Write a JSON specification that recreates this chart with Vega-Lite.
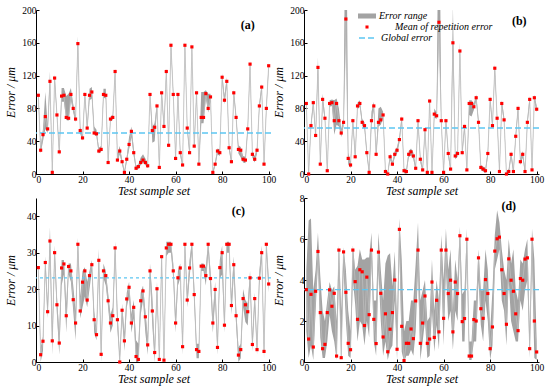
{
"$schema": "https://vega.github.io/schema/vega-lite/v6.json",
"padding": {"left": 4, "top": 5, "right": 5, "bottom": 3},
"bounds": "flush",
"columns": 2,
"spacing": {"row": 24, "column": 33},
"resolve": {"scale": {"fill": "independent", "color": "independent", "strokeDash": "independent"}, "legend": {"fill": "independent", "color": "independent", "strokeDash": "independent"}},
"config": {
 "font": "Liberation Serif",
 "view": {"stroke": null},
 "axis": {"grid": false, "domainColor": "#000", "tickColor": "#000", "labelColor": "#000", "titleColor": "#000", "labelFont": "Liberation Serif", "labelFontSize": 9.5, "labelOverlap": false, "labelBound": false, "labelSeparation": 0, "titleFont": "Liberation Serif", "titleFontSize": 12, "titleFontStyle": "italic", "titleFontWeight": "normal", "tickSize": -3, "labelPadding": 3, "domainWidth": 1},
 "axisY": {"minExtent": 18, "maxExtent": 18, "titlePadding": 1},
 "axisX": {"minExtent": 11, "maxExtent": 11, "titlePadding": 0, "labelPadding": 3},
 "legend": {"labelFont": "Liberation Serif", "labelFontStyle": "italic", "labelFontSize": 10, "labelColor": "#000"}
},
"datasets": {
"a": [{"x":1,"m":96,"lo":90,"hi":102},{"x":2,"m":29,"lo":25,"hi":33},{"x":3,"m":48,"lo":40,"hi":55},{"x":4,"m":70,"lo":55,"hi":100},{"x":5,"m":55,"lo":50,"hi":60},{"x":6,"m":113,"lo":105,"hi":125},{"x":7,"m":2,"lo":0,"hi":5},{"x":8,"m":117,"lo":112,"hi":122},{"x":9,"m":72,"lo":68,"hi":76},{"x":10,"m":27,"lo":22,"hi":30},{"x":11,"m":95,"lo":88,"hi":105},{"x":12,"m":96,"lo":88,"hi":105},{"x":13,"m":69,"lo":66,"hi":95},{"x":14,"m":68,"lo":65,"hi":98},{"x":15,"m":97,"lo":90,"hi":105},{"x":16,"m":80,"lo":75,"hi":85},{"x":17,"m":67,"lo":63,"hi":71},{"x":18,"m":159,"lo":152,"hi":168},{"x":19,"m":53,"lo":49,"hi":58},{"x":20,"m":44,"lo":41,"hi":47},{"x":21,"m":97,"lo":93,"hi":101},{"x":22,"m":56,"lo":52,"hi":60},{"x":23,"m":96,"lo":90,"hi":104},{"x":24,"m":100,"lo":92,"hi":106},{"x":25,"m":50,"lo":48,"hi":58},{"x":26,"m":49,"lo":46,"hi":54},{"x":27,"m":28,"lo":25,"hi":32},{"x":28,"m":30,"lo":27,"hi":34},{"x":29,"m":97,"lo":93,"hi":104},{"x":30,"m":96,"lo":92,"hi":104},{"x":31,"m":14,"lo":12,"hi":17},{"x":32,"m":67,"lo":64,"hi":70},{"x":33,"m":69,"lo":66,"hi":72},{"x":34,"m":125,"lo":120,"hi":129},{"x":35,"m":17,"lo":14,"hi":25},{"x":36,"m":28,"lo":24,"hi":34},{"x":37,"m":15,"lo":12,"hi":18},{"x":38,"m":2,"lo":0,"hi":4},{"x":39,"m":18,"lo":15,"hi":21},{"x":40,"m":36,"lo":30,"hi":45},{"x":41,"m":52,"lo":45,"hi":58},{"x":42,"m":26,"lo":22,"hi":32},{"x":43,"m":7,"lo":5,"hi":10},{"x":44,"m":9,"lo":6,"hi":12},{"x":45,"m":14,"lo":11,"hi":20},{"x":46,"m":17,"lo":14,"hi":24},{"x":47,"m":14,"lo":11,"hi":19},{"x":48,"m":10,"lo":7,"hi":13},{"x":49,"m":97,"lo":94,"hi":100},{"x":50,"m":53,"lo":38,"hi":58},{"x":51,"m":57,"lo":40,"hi":62},{"x":52,"m":83,"lo":78,"hi":87},{"x":53,"m":8,"lo":5,"hi":11},{"x":54,"m":99,"lo":95,"hi":103},{"x":55,"m":58,"lo":52,"hi":62},{"x":56,"m":125,"lo":120,"hi":129},{"x":57,"m":35,"lo":31,"hi":39},{"x":58,"m":157,"lo":152,"hi":162},{"x":59,"m":97,"lo":93,"hi":101},{"x":60,"m":19,"lo":15,"hi":22},{"x":61,"m":97,"lo":93,"hi":101},{"x":62,"m":26,"lo":22,"hi":30},{"x":63,"m":11,"lo":8,"hi":14},{"x":64,"m":157,"lo":152,"hi":162},{"x":65,"m":56,"lo":52,"hi":60},{"x":66,"m":26,"lo":23,"hi":30},{"x":67,"m":155,"lo":150,"hi":160},{"x":68,"m":34,"lo":30,"hi":38},{"x":69,"m":99,"lo":95,"hi":103},{"x":70,"m":12,"lo":9,"hi":15},{"x":71,"m":69,"lo":62,"hi":100},{"x":72,"m":69,"lo":62,"hi":100},{"x":73,"m":98,"lo":92,"hi":102},{"x":74,"m":80,"lo":75,"hi":98},{"x":75,"m":94,"lo":88,"hi":98},{"x":76,"m":2,"lo":0,"hi":4},{"x":77,"m":12,"lo":9,"hi":15},{"x":78,"m":28,"lo":24,"hi":31},{"x":79,"m":26,"lo":22,"hi":30},{"x":80,"m":118,"lo":113,"hi":123},{"x":81,"m":90,"lo":85,"hi":95},{"x":82,"m":113,"lo":108,"hi":118},{"x":83,"m":32,"lo":28,"hi":36},{"x":84,"m":15,"lo":12,"hi":18},{"x":85,"m":99,"lo":95,"hi":103},{"x":86,"m":69,"lo":65,"hi":73},{"x":87,"m":30,"lo":25,"hi":35},{"x":88,"m":29,"lo":20,"hi":33},{"x":89,"m":18,"lo":14,"hi":22},{"x":90,"m":17,"lo":13,"hi":21},{"x":91,"m":55,"lo":51,"hi":59},{"x":92,"m":134,"lo":128,"hi":138},{"x":93,"m":24,"lo":20,"hi":28},{"x":94,"m":18,"lo":14,"hi":22},{"x":95,"m":29,"lo":25,"hi":33},{"x":96,"m":83,"lo":79,"hi":87},{"x":97,"m":106,"lo":101,"hi":110},{"x":98,"m":12,"lo":9,"hi":15},{"x":99,"m":80,"lo":76,"hi":84},{"x":100,"m":132,"lo":127,"hi":136}],
"b": [{"x":1,"m":86,"lo":82,"hi":90},{"x":2,"m":0,"lo":0,"hi":3},{"x":3,"m":59,"lo":55,"hi":63},{"x":4,"m":87,"lo":83,"hi":91},{"x":5,"m":47,"lo":43,"hi":51},{"x":6,"m":130,"lo":120,"hi":142},{"x":7,"m":12,"lo":8,"hi":16},{"x":8,"m":91,"lo":86,"hi":98},{"x":9,"m":68,"lo":64,"hi":72},{"x":10,"m":4,"lo":1,"hi":7},{"x":11,"m":86,"lo":82,"hi":90},{"x":12,"m":87,"lo":83,"hi":91},{"x":13,"m":65,"lo":48,"hi":90},{"x":14,"m":86,"lo":60,"hi":92},{"x":15,"m":65,"lo":58,"hi":80},{"x":16,"m":50,"lo":45,"hi":55},{"x":17,"m":63,"lo":58,"hi":68},{"x":18,"m":189,"lo":170,"hi":400},{"x":19,"m":19,"lo":12,"hi":26},{"x":20,"m":11,"lo":7,"hi":15},{"x":21,"m":65,"lo":61,"hi":69},{"x":22,"m":21,"lo":17,"hi":25},{"x":23,"m":83,"lo":79,"hi":87},{"x":24,"m":86,"lo":82,"hi":90},{"x":25,"m":63,"lo":59,"hi":67},{"x":26,"m":59,"lo":55,"hi":63},{"x":27,"m":26,"lo":22,"hi":30},{"x":28,"m":2,"lo":0,"hi":5},{"x":29,"m":65,"lo":60,"hi":76},{"x":30,"m":83,"lo":78,"hi":88},{"x":31,"m":24,"lo":20,"hi":28},{"x":32,"m":63,"lo":58,"hi":80},{"x":33,"m":66,"lo":60,"hi":82},{"x":34,"m":72,"lo":68,"hi":76},{"x":35,"m":3,"lo":0,"hi":6},{"x":36,"m":0,"lo":0,"hi":3},{"x":37,"m":21,"lo":17,"hi":25},{"x":38,"m":12,"lo":9,"hi":15},{"x":39,"m":24,"lo":20,"hi":28},{"x":40,"m":29,"lo":25,"hi":33},{"x":41,"m":42,"lo":38,"hi":46},{"x":42,"m":67,"lo":63,"hi":71},{"x":43,"m":4,"lo":1,"hi":7},{"x":44,"m":3,"lo":0,"hi":6},{"x":45,"m":24,"lo":20,"hi":28},{"x":46,"m":27,"lo":23,"hi":31},{"x":47,"m":22,"lo":18,"hi":26},{"x":48,"m":7,"lo":4,"hi":10},{"x":49,"m":65,"lo":61,"hi":69},{"x":50,"m":18,"lo":14,"hi":22},{"x":51,"m":5,"lo":2,"hi":8},{"x":52,"m":54,"lo":50,"hi":58},{"x":53,"m":2,"lo":0,"hi":5},{"x":54,"m":89,"lo":85,"hi":93},{"x":55,"m":2,"lo":0,"hi":5},{"x":56,"m":73,"lo":69,"hi":80},{"x":57,"m":71,"lo":67,"hi":75},{"x":58,"m":185,"lo":170,"hi":400},{"x":59,"m":65,"lo":61,"hi":69},{"x":60,"m":2,"lo":0,"hi":5},{"x":61,"m":65,"lo":61,"hi":69},{"x":62,"m":25,"lo":21,"hi":29},{"x":63,"m":6,"lo":3,"hi":9},{"x":64,"m":160,"lo":150,"hi":205},{"x":65,"m":22,"lo":18,"hi":26},{"x":66,"m":25,"lo":21,"hi":29},{"x":67,"m":150,"lo":145,"hi":160},{"x":68,"m":26,"lo":22,"hi":30},{"x":69,"m":58,"lo":54,"hi":62},{"x":70,"m":5,"lo":2,"hi":8},{"x":71,"m":86,"lo":72,"hi":90},{"x":72,"m":86,"lo":70,"hi":90},{"x":73,"m":82,"lo":78,"hi":86},{"x":74,"m":93,"lo":89,"hi":97},{"x":75,"m":63,"lo":59,"hi":67},{"x":76,"m":8,"lo":5,"hi":11},{"x":77,"m":6,"lo":3,"hi":9},{"x":78,"m":4,"lo":1,"hi":7},{"x":79,"m":25,"lo":21,"hi":29},{"x":80,"m":91,"lo":87,"hi":95},{"x":81,"m":59,"lo":55,"hi":63},{"x":82,"m":129,"lo":124,"hi":134},{"x":83,"m":68,"lo":64,"hi":72},{"x":84,"m":3,"lo":0,"hi":6},{"x":85,"m":86,"lo":82,"hi":90},{"x":86,"m":66,"lo":62,"hi":70},{"x":87,"m":0,"lo":0,"hi":3},{"x":88,"m":3,"lo":0,"hi":6},{"x":89,"m":24,"lo":20,"hi":28},{"x":90,"m":3,"lo":0,"hi":6},{"x":91,"m":46,"lo":42,"hi":50},{"x":92,"m":80,"lo":76,"hi":84},{"x":93,"m":15,"lo":11,"hi":19},{"x":94,"m":24,"lo":20,"hi":28},{"x":95,"m":3,"lo":0,"hi":6},{"x":96,"m":63,"lo":59,"hi":67},{"x":97,"m":91,"lo":87,"hi":95},{"x":98,"m":5,"lo":2,"hi":8},{"x":99,"m":93,"lo":89,"hi":97},{"x":100,"m":79,"lo":75,"hi":83}],
"c": [{"x":1,"m":25.9,"lo":24,"hi":27},{"x":2,"m":2,"lo":0,"hi":4},{"x":3,"m":5.7,"lo":3,"hi":7},{"x":4,"m":27.3,"lo":25,"hi":29},{"x":5,"m":13.8,"lo":12,"hi":16},{"x":6,"m":33.2,"lo":30,"hi":37},{"x":7,"m":5.8,"lo":2,"hi":9},{"x":8,"m":30,"lo":28,"hi":32},{"x":9,"m":15.7,"lo":13,"hi":18},{"x":10,"m":5.2,"lo":2,"hi":8},{"x":11,"m":25.8,"lo":21,"hi":28},{"x":12,"m":26.9,"lo":24,"hi":28},{"x":13,"m":12.7,"lo":8,"hi":16},{"x":14,"m":26.2,"lo":24,"hi":27},{"x":15,"m":25,"lo":22,"hi":27},{"x":16,"m":17.1,"lo":14,"hi":21},{"x":17,"m":10.7,"lo":6,"hi":14},{"x":18,"m":32.3,"lo":30,"hi":34},{"x":19,"m":14,"lo":12,"hi":18},{"x":20,"m":21.9,"lo":15,"hi":25},{"x":21,"m":25,"lo":18,"hi":26},{"x":22,"m":17,"lo":15,"hi":22},{"x":23,"m":23.7,"lo":20,"hi":25},{"x":24,"m":26.7,"lo":25,"hi":28},{"x":25,"m":11.6,"lo":8,"hi":14},{"x":26,"m":7.5,"lo":6,"hi":9},{"x":27,"m":27.9,"lo":25,"hi":31},{"x":28,"m":2.1,"lo":0,"hi":4},{"x":29,"m":25,"lo":23,"hi":27},{"x":30,"m":23.7,"lo":21,"hi":25},{"x":31,"m":16.8,"lo":15,"hi":19},{"x":32,"m":10.7,"lo":8,"hi":13},{"x":33,"m":12.7,"lo":10,"hi":15},{"x":34,"m":31.3,"lo":29,"hi":33},{"x":35,"m":11.6,"lo":9,"hi":14},{"x":36,"m":0,"lo":0,"hi":2},{"x":37,"m":14.2,"lo":12,"hi":16},{"x":38,"m":5.8,"lo":3,"hi":8},{"x":39,"m":17.3,"lo":15,"hi":19},{"x":40,"m":20.5,"lo":18,"hi":22},{"x":41,"m":10.7,"lo":8,"hi":13},{"x":42,"m":15,"lo":12,"hi":17},{"x":43,"m":1.5,"lo":0,"hi":6},{"x":44,"m":0.7,"lo":0,"hi":5},{"x":45,"m":16.8,"lo":13,"hi":19},{"x":46,"m":19.5,"lo":17,"hi":21},{"x":47,"m":12.4,"lo":8,"hi":14},{"x":48,"m":4.7,"lo":2,"hi":7},{"x":49,"m":25,"lo":23,"hi":27},{"x":50,"m":14,"lo":10,"hi":18},{"x":51,"m":2.6,"lo":0,"hi":4},{"x":52,"m":20.1,"lo":18,"hi":22},{"x":53,"m":0.7,"lo":0,"hi":2},{"x":54,"m":28.9,"lo":26,"hi":30},{"x":55,"m":0.5,"lo":0,"hi":2},{"x":56,"m":31.3,"lo":29,"hi":33},{"x":57,"m":32.3,"lo":30,"hi":33},{"x":58,"m":32.3,"lo":30,"hi":33},{"x":59,"m":25,"lo":23,"hi":27},{"x":60,"m":10.7,"lo":8,"hi":13},{"x":61,"m":23.1,"lo":21,"hi":25},{"x":62,"m":25.8,"lo":23,"hi":27},{"x":63,"m":4.2,"lo":2,"hi":6},{"x":64,"m":32.3,"lo":30,"hi":33},{"x":65,"m":17,"lo":15,"hi":19},{"x":66,"m":25.8,"lo":23,"hi":28},{"x":67,"m":32.3,"lo":30,"hi":33},{"x":68,"m":18.5,"lo":16,"hi":21},{"x":69,"m":3.4,"lo":1,"hi":5},{"x":70,"m":2.9,"lo":1,"hi":5},{"x":71,"m":26.3,"lo":25,"hi":27},{"x":72,"m":26.3,"lo":25,"hi":27},{"x":73,"m":23.7,"lo":21,"hi":26},{"x":74,"m":32.3,"lo":30,"hi":33},{"x":75,"m":22.9,"lo":20,"hi":25},{"x":76,"m":10.7,"lo":8,"hi":13},{"x":77,"m":19.9,"lo":17,"hi":22},{"x":78,"m":4,"lo":2,"hi":6},{"x":79,"m":25.9,"lo":23,"hi":28},{"x":80,"m":30,"lo":24,"hi":32},{"x":81,"m":10.1,"lo":8,"hi":12},{"x":82,"m":32.3,"lo":30,"hi":33},{"x":83,"m":32.3,"lo":30,"hi":33},{"x":84,"m":15.5,"lo":13,"hi":18},{"x":85,"m":26.7,"lo":24,"hi":29},{"x":86,"m":12.7,"lo":10,"hi":15},{"x":87,"m":1.9,"lo":0,"hi":4},{"x":88,"m":3.4,"lo":1,"hi":5},{"x":89,"m":17.4,"lo":15,"hi":20},{"x":90,"m":15.7,"lo":11,"hi":17},{"x":91,"m":13.8,"lo":10,"hi":16},{"x":92,"m":23.1,"lo":21,"hi":25},{"x":93,"m":4.8,"lo":3,"hi":7},{"x":94,"m":17.4,"lo":15,"hi":19},{"x":95,"m":3.4,"lo":2,"hi":5},{"x":96,"m":23,"lo":21,"hi":25},{"x":97,"m":30,"lo":28,"hi":32},{"x":98,"m":2.9,"lo":1,"hi":5},{"x":99,"m":32.3,"lo":30,"hi":33},{"x":100,"m":21.4,"lo":19,"hi":23}],
"d": [{"x":1,"m":3.53,"lo":1.5,"hi":4.5},{"x":2,"m":1.12,"lo":0.2,"hi":6.9},{"x":3,"m":3.3,"lo":0.8,"hi":7.0},{"x":4,"m":0.73,"lo":0.1,"hi":3.5},{"x":5,"m":3.45,"lo":2.5,"hi":4.5},{"x":6,"m":5.39,"lo":4.8,"hi":6.3},{"x":7,"m":2.41,"lo":1.2,"hi":4.2},{"x":8,"m":0.65,"lo":0.2,"hi":2.5},{"x":9,"m":0.86,"lo":0.2,"hi":2},{"x":10,"m":2.41,"lo":1,"hi":3},{"x":11,"m":3.52,"lo":2.3,"hi":3.9},{"x":12,"m":2.72,"lo":1.5,"hi":3.5},{"x":13,"m":3.35,"lo":1,"hi":3.7},{"x":14,"m":0.29,"lo":0.1,"hi":2},{"x":15,"m":5.46,"lo":4,"hi":5.7},{"x":16,"m":0.21,"lo":0.1,"hi":2.5},{"x":17,"m":5.37,"lo":4.5,"hi":5.6},{"x":18,"m":3.4,"lo":2,"hi":4.5},{"x":19,"m":0.91,"lo":0.3,"hi":2.5},{"x":20,"m":0.6,"lo":0.2,"hi":1.5},{"x":21,"m":5.46,"lo":4,"hi":5.7},{"x":22,"m":3.92,"lo":2.8,"hi":4.5},{"x":23,"m":2.08,"lo":1,"hi":4.7},{"x":24,"m":4.5,"lo":2,"hi":5.5},{"x":25,"m":4.4,"lo":1.8,"hi":5},{"x":26,"m":1.78,"lo":0.8,"hi":5},{"x":27,"m":4.14,"lo":2,"hi":5.1},{"x":28,"m":2.31,"lo":1.2,"hi":5.1},{"x":29,"m":5.46,"lo":5,"hi":6.3},{"x":30,"m":2.08,"lo":1,"hi":3},{"x":31,"m":0.9,"lo":0.3,"hi":3},{"x":32,"m":5.36,"lo":4.5,"hi":6.3},{"x":33,"m":3.35,"lo":2,"hi":4.5},{"x":34,"m":1.22,"lo":0.3,"hi":3},{"x":35,"m":2.35,"lo":1,"hi":4.8},{"x":36,"m":0.5,"lo":0.1,"hi":5.2},{"x":37,"m":1.6,"lo":0.6,"hi":5.3},{"x":38,"m":2.41,"lo":0.8,"hi":3.7},{"x":39,"m":4,"lo":3,"hi":5.4},{"x":40,"m":0.62,"lo":0.1,"hi":2},{"x":41,"m":6.47,"lo":5.5,"hi":7},{"x":42,"m":1.74,"lo":0.5,"hi":5},{"x":43,"m":0.07,"lo":0,"hi":1.5},{"x":44,"m":0.91,"lo":0.3,"hi":2},{"x":45,"m":0.91,"lo":0.3,"hi":2},{"x":46,"m":1.61,"lo":0.6,"hi":3},{"x":47,"m":1.14,"lo":0.3,"hi":3},{"x":48,"m":2.98,"lo":1.5,"hi":4.8},{"x":49,"m":5.46,"lo":4.5,"hi":6.8},{"x":50,"m":0.91,"lo":0.1,"hi":3},{"x":51,"m":1.9,"lo":1,"hi":3.5},{"x":52,"m":3.22,"lo":2,"hi":4},{"x":53,"m":0.91,"lo":0.2,"hi":2},{"x":54,"m":1.12,"lo":0.3,"hi":2.2},{"x":55,"m":3.9,"lo":2.5,"hi":5},{"x":56,"m":1.2,"lo":0.5,"hi":2.5},{"x":57,"m":3.01,"lo":1.8,"hi":4},{"x":58,"m":1.47,"lo":0.6,"hi":3},{"x":59,"m":5.46,"lo":4.5,"hi":6.2},{"x":60,"m":2.13,"lo":0.8,"hi":4},{"x":61,"m":5.46,"lo":4.5,"hi":6.5},{"x":62,"m":3.34,"lo":2,"hi":4.5},{"x":63,"m":3.99,"lo":2.5,"hi":5.5},{"x":64,"m":1.47,"lo":0.6,"hi":2.5},{"x":65,"m":3.9,"lo":2.5,"hi":5},{"x":66,"m":3.34,"lo":2,"hi":4},{"x":67,"m":6.16,"lo":5.5,"hi":6.6},{"x":68,"m":1.97,"lo":1,"hi":3.3},{"x":69,"m":2.12,"lo":1,"hi":3.5},{"x":70,"m":5.99,"lo":5,"hi":6.5},{"x":71,"m":0.29,"lo":0.1,"hi":1},{"x":72,"m":0.29,"lo":0.1,"hi":1},{"x":73,"m":2.07,"lo":1,"hi":3},{"x":74,"m":2,"lo":1,"hi":3},{"x":75,"m":5.08,"lo":4,"hi":5.5},{"x":76,"m":2.6,"lo":1.8,"hi":3.5},{"x":77,"m":2.13,"lo":1,"hi":3.5},{"x":78,"m":4.02,"lo":3,"hi":5.5},{"x":79,"m":3.34,"lo":2,"hi":4.5},{"x":80,"m":0.65,"lo":0.1,"hi":1.5},{"x":81,"m":1.71,"lo":0.8,"hi":3.5},{"x":82,"m":5.41,"lo":4.5,"hi":6.2},{"x":83,"m":6.01,"lo":5,"hi":7.4},{"x":84,"m":6.09,"lo":5.5,"hi":6.8},{"x":85,"m":4.5,"lo":3,"hi":5.5},{"x":86,"m":3.34,"lo":2.5,"hi":4.5},{"x":87,"m":1.84,"lo":0.8,"hi":4},{"x":88,"m":5.03,"lo":4,"hi":6},{"x":89,"m":3.99,"lo":2,"hi":4.8},{"x":90,"m":3.45,"lo":1.5,"hi":5.5},{"x":91,"m":2.35,"lo":1,"hi":3.5},{"x":92,"m":1.53,"lo":1,"hi":3},{"x":93,"m":4.07,"lo":3,"hi":5},{"x":94,"m":3.99,"lo":2.5,"hi":4.8},{"x":95,"m":5.02,"lo":3.5,"hi":5.5},{"x":96,"m":5.08,"lo":4,"hi":6},{"x":97,"m":0.65,"lo":0.2,"hi":1.5},{"x":98,"m":5.99,"lo":5,"hi":6.5},{"x":99,"m":2,"lo":0.2,"hi":5},{"x":100,"m":0.49,"lo":0.1,"hi":1}]
},
"concat": [
 {"width": 235, "height": 164, "data": {"name": "a"},
  "layer": [
   {"mark": {"type": "area", "color": "#a3a3a3", "clip": true},
    "encoding": {"x": {"field": "x", "type": "quantitative", "scale": {"domain": [0, 101], "nice": false, "zero": false}, "axis": {"values": [0, 20, 40, 60, 80, 100], "labelOverlap": false}, "title": "Test sample set"},
     "y": {"field": "lo", "type": "quantitative", "scale": {"domain": [0, 200], "nice": false}, "axis": {"values": [0, 40, 80, 120, 160, 200], "labelOverlap": false, "labelBound": false}, "title": "Error / μm"},
     "y2": {"field": "hi"}}},
   {"mark": {"type": "line", "color": "#bdbdbd", "strokeWidth": 0.8, "clip": true},
    "encoding": {"x": {"field": "x", "type": "quantitative", "title": "Test sample set", "axis": {"values": [0, 20, 40, 60, 80, 100], "labelOverlap": false}}, "y": {"field": "m", "type": "quantitative", "title": "Error / μm", "axis": {"values": [0, 40, 80, 120, 160, 200], "labelOverlap": false}}}},
   {"data": {"values": [{}]}, "mark": {"type": "rule", "color": "#5cc6f2", "strokeDash": [6, 3], "strokeWidth": 1.5},
    "encoding": {"y": {"datum": 50, "title": "Error / μm", "axis": {"values": [0, 40, 80, 120, 160, 200], "labelOverlap": false}}}},
   {"mark": {"type": "square", "color": "#ff0000", "size": 10, "opacity": 1},
    "encoding": {"x": {"field": "x", "type": "quantitative", "title": "Test sample set", "axis": {"values": [0, 20, 40, 60, 80, 100], "labelOverlap": false}}, "y": {"field": "m", "type": "quantitative", "title": "Error / μm", "axis": {"values": [0, 40, 80, 120, 160, 200], "labelOverlap": false}}}},
   {"data": {"values": [{}]}, "mark": {"type": "text", "font": "Liberation Serif", "fontWeight": "bold", "fontSize": 12, "color": "#000"},
    "encoding": {"x": {"datum": 91, "title": "Test sample set", "axis": {"values": [0, 20, 40, 60, 80, 100], "labelOverlap": false}}, "y": {"datum": 182, "title": "Error / μm", "axis": {"values": [0, 40, 80, 120, 160, 200], "labelOverlap": false}}, "text": {"value": "(a)"}}}
  ]},
 {"width": 235, "height": 164, "data": {"name": "b"},
  "layer": [
   {"mark": {"type": "area", "clip": true},
    "encoding": {"x": {"field": "x", "type": "quantitative", "scale": {"domain": [0, 101], "nice": false, "zero": false}, "axis": {"values": [0, 20, 40, 60, 80, 100], "labelOverlap": false}, "title": "Test sample set"},
     "y": {"field": "lo", "type": "quantitative", "scale": {"domain": [0, 200], "nice": false}, "axis": {"values": [0, 40, 80, 120, 160, 200], "labelOverlap": false, "labelBound": false}, "title": "Error / μm"},
     "y2": {"field": "hi"},
     "fill": {"datum": "Error range", "scale": {"range": ["#a3a3a3"]}, "legend": {"orient": "none", "legendX": 54, "legendY": -3, "title": null, "symbolType": "M-1,-0.28H1V0.28H-1Z", "symbolSize": 324, "symbolStrokeWidth": 0, "labelOffset": 3}}}},
   {"mark": {"type": "line", "color": "#bdbdbd", "strokeWidth": 0.8, "clip": true},
    "encoding": {"x": {"field": "x", "type": "quantitative", "title": "Test sample set", "axis": {"values": [0, 20, 40, 60, 80, 100], "labelOverlap": false}}, "y": {"field": "m", "type": "quantitative", "title": "Error / μm", "axis": {"values": [0, 40, 80, 120, 160, 200], "labelOverlap": false}}}},
   {"data": {"values": [{}]}, "mark": {"type": "rule", "color": "#5cc6f2", "strokeWidth": 1.5},
    "encoding": {"y": {"datum": 56, "title": "Error / μm", "axis": {"values": [0, 40, 80, 120, 160, 200], "labelOverlap": false}},
     "strokeDash": {"datum": "Global error", "scale": {"range": [[6, 3]]}, "legend": {"orient": "none", "legendX": 54, "legendY": 18, "title": null, "symbolType": "M-1,0H1", "symbolSize": 324, "symbolStrokeColor": "#5cc6f2", "symbolStrokeWidth": 1.5, "labelOffset": 3}}}},
   {"mark": {"type": "square", "size": 10, "opacity": 1},
    "encoding": {"x": {"field": "x", "type": "quantitative", "title": "Test sample set", "axis": {"values": [0, 20, 40, 60, 80, 100], "labelOverlap": false}}, "y": {"field": "m", "type": "quantitative", "title": "Error / μm", "axis": {"values": [0, 40, 80, 120, 160, 200], "labelOverlap": false}},
     "color": {"datum": "Mean of repetition error", "scale": {"range": ["#ff0000"]}, "legend": {"orient": "none", "legendX": 54, "legendY": 8, "title": null, "symbolType": "M-0.17,-0.17H0.17V0.17H-0.17Z", "symbolSize": 324, "symbolStrokeWidth": 0, "symbolOpacity": 1, "labelOffset": 19}}}},
   {"data": {"values": [{}]}, "mark": {"type": "text", "font": "Liberation Serif", "fontWeight": "bold", "fontSize": 12, "color": "#000"},
    "encoding": {"x": {"datum": 92.5, "title": "Test sample set", "axis": {"values": [0, 20, 40, 60, 80, 100], "labelOverlap": false}}, "y": {"datum": 186, "title": "Error / μm", "axis": {"values": [0, 40, 80, 120, 160, 200], "labelOverlap": false}}, "text": {"value": "(b)"}}}
  ]},
 {"width": 235, "height": 164, "data": {"name": "c"},
  "layer": [
   {"mark": {"type": "area", "color": "#a3a3a3", "clip": true},
    "encoding": {"x": {"field": "x", "type": "quantitative", "scale": {"domain": [0, 101], "nice": false, "zero": false}, "axis": {"values": [0, 20, 40, 60, 80, 100], "labelOverlap": false}, "title": "Test sample set"},
     "y": {"field": "lo", "type": "quantitative", "scale": {"domain": [0, 45], "nice": false}, "axis": {"values": [0, 10, 20, 30, 40], "labelOverlap": false}, "title": "Error / μm"},
     "y2": {"field": "hi"}}},
   {"mark": {"type": "line", "color": "#bdbdbd", "strokeWidth": 0.8, "clip": true},
    "encoding": {"x": {"field": "x", "type": "quantitative", "title": "Test sample set"}, "y": {"field": "m", "type": "quantitative", "title": "Error / μm"}}},
   {"data": {"values": [{}]}, "mark": {"type": "rule", "color": "#5cc6f2", "strokeDash": [3, 3], "strokeWidth": 1.2},
    "encoding": {"y": {"datum": 23.1, "title": "Error / μm"}}},
   {"mark": {"type": "square", "color": "#ff0000", "size": 10, "opacity": 1},
    "encoding": {"x": {"field": "x", "type": "quantitative", "title": "Test sample set"}, "y": {"field": "m", "type": "quantitative", "title": "Error / μm"}}},
   {"data": {"values": [{}]}, "mark": {"type": "text", "font": "Liberation Serif", "fontWeight": "bold", "fontSize": 12, "color": "#000"},
    "encoding": {"x": {"datum": 87, "title": "Test sample set"}, "y": {"datum": 41.3, "title": "Error / μm"}, "text": {"value": "(c)"}}}
  ]},
 {"width": 235, "height": 164, "data": {"name": "d"},
  "layer": [
   {"mark": {"type": "area", "color": "#a3a3a3", "clip": true},
    "encoding": {"x": {"field": "x", "type": "quantitative", "scale": {"domain": [0, 101], "nice": false, "zero": false}, "axis": {"values": [0, 20, 40, 60, 80, 100], "labelOverlap": false}, "title": "Test sample set"},
     "y": {"field": "lo", "type": "quantitative", "scale": {"domain": [0, 8], "nice": false}, "axis": {"values": [0, 2, 4, 6, 8], "labelOverlap": false}, "title": "Error / μm"},
     "y2": {"field": "hi"}}},
   {"mark": {"type": "line", "color": "#bdbdbd", "strokeWidth": 0.8, "clip": true},
    "encoding": {"x": {"field": "x", "type": "quantitative", "title": "Test sample set"}, "y": {"field": "m", "type": "quantitative", "title": "Error / μm"}}},
   {"data": {"values": [{}]}, "mark": {"type": "rule", "color": "#5cc6f2", "strokeDash": [6, 3], "strokeWidth": 1.2},
    "encoding": {"y": {"datum": 3.53, "title": "Error / μm"}}},
   {"mark": {"type": "square", "color": "#ff0000", "size": 10, "opacity": 1},
    "encoding": {"x": {"field": "x", "type": "quantitative", "title": "Test sample set"}, "y": {"field": "m", "type": "quantitative", "title": "Error / μm"}}},
   {"data": {"values": [{}]}, "mark": {"type": "text", "font": "Liberation Serif", "fontWeight": "bold", "fontSize": 12, "color": "#000"},
    "encoding": {"x": {"datum": 88, "title": "Test sample set"}, "y": {"datum": 7.6, "title": "Error / μm"}, "text": {"value": "(d)"}}}
  ]}
]
}
